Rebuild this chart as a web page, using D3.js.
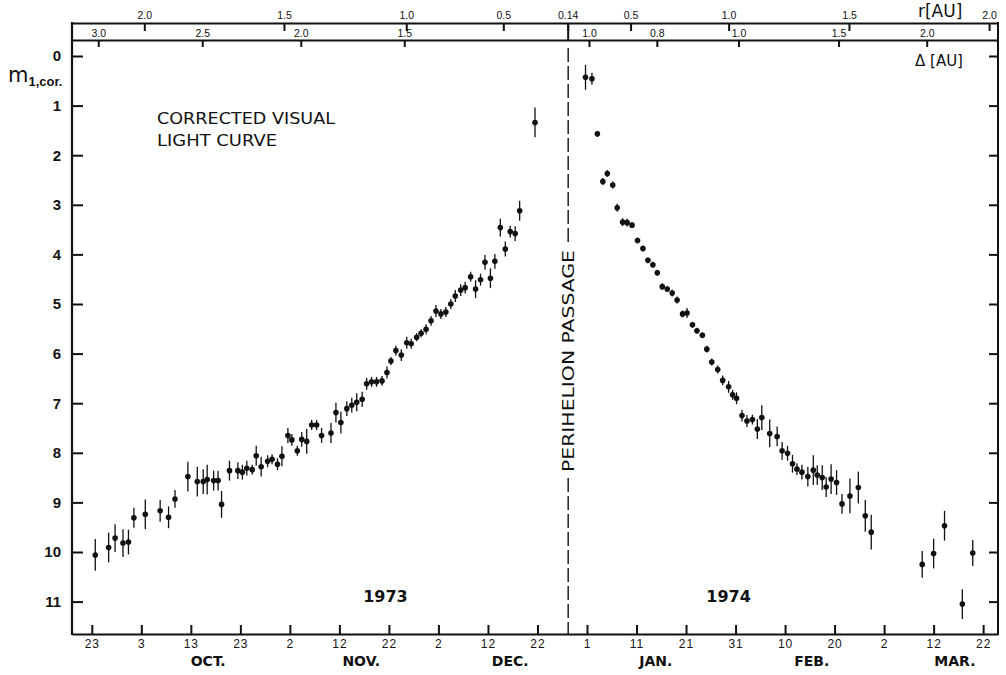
<!DOCTYPE html>
<html>
<head>
<meta charset="utf-8">
<script src="https://cdn.jsdelivr.net/npm/d3@7"></script>
<style>
  body { margin: 0; background: #fff; }
  svg { display: block; }
  .axis path, .axis line { stroke: #111; stroke-width: 2; }
  .axis text { fill: #111; font-family: 'Liberation Sans', Arial, sans-serif; }
  .label { fill: #111; font-family: 'DejaVu Sans', sans-serif; }
</style>
</head>
<body>
<div id="chart"></div>
<script>
// Observation dates (fractional day of month), magnitudes and error bars
var obsDates = [
  '1973-09-23.7','1973-09-26.4','1973-09-27.7','1973-09-29.3','1973-09-30.4',
  '1973-10-01.5','1973-10-03.8','1973-10-06.8','1973-10-08.5','1973-10-09.8',
  '1973-10-12.4','1973-10-14.3','1973-10-15.5','1973-10-16.3','1973-10-17.6',
  '1973-10-18.5','1973-10-19.2','1973-10-20.8','1973-10-22.5','1973-10-23.4',
  '1973-10-24.3','1973-10-25.4','1973-10-26.2','1973-10-27.2','1973-10-28.5',
  '1973-10-29.4','1973-10-30.5','1973-10-31.4','1973-11-01.6','1973-11-02.4',
  '1973-11-03.5','1973-11-04.4','1973-11-05.4','1973-11-06.4','1973-11-07.4',
  '1973-11-08.4','1973-11-10.3','1973-11-11.3','1973-11-12.3','1973-11-13.5',
  '1973-11-14.5','1973-11-15.5','1973-11-16.6','1973-11-17.5','1973-11-18.5',
  '1973-11-19.5','1973-11-20.6','1973-11-21.6','1973-11-22.4','1973-11-23.4',
  '1973-11-24.5','1973-11-25.6','1973-11-26.5','1973-11-27.6','1973-11-28.5',
  '1973-11-29.5','1973-11-30.5','1973-12-01.5','1973-12-02.5','1973-12-03.5',
  '1973-12-04.5','1973-12-05.4','1973-12-06.5','1973-12-07.4','1973-12-08.5',
  '1973-12-09.5','1973-12-10.5','1973-12-11.4','1973-12-12.5','1973-12-13.4',
  '1973-12-14.5','1973-12-15.5','1973-12-16.5','1973-12-17.5','1973-12-18.4',
  '1973-12-21.5',
  '1973-12-31.7','1974-01-02.0','1974-01-03.1','1974-01-04.2','1974-01-05.1',
  '1974-01-06.2','1974-01-07.1','1974-01-08.2','1974-01-09.1','1974-01-10.1',
  '1974-01-11.2','1974-01-12.3','1974-01-13.3','1974-01-14.3','1974-01-15.2',
  '1974-01-16.2','1974-01-17.2','1974-01-18.2','1974-01-19.2','1974-01-20.3',
  '1974-01-21.2','1974-01-22.3','1974-01-23.2','1974-01-24.3','1974-01-25.2',
  '1974-01-26.2','1974-01-27.4','1974-01-28.4','1974-01-29.6','1974-01-30.4',
  '1974-01-31.2','1974-02-01.3','1974-02-02.3','1974-02-03.4','1974-02-04.4',
  '1974-02-05.3','1974-02-06.9','1974-02-08.4','1974-02-09.4','1974-02-10.5',
  '1974-02-11.5','1974-02-12.4','1974-02-13.4','1974-02-14.6','1974-02-15.7',
  '1974-02-16.5','1974-02-17.5','1974-02-18.3','1974-02-19.3','1974-02-20.4',
  '1974-02-21.5','1974-02-23.1','1974-02-24.8','1974-02-26.2','1974-02-27.4',
  '1974-03-09.7','1974-03-12.0','1974-03-14.2','1974-03-17.8','1974-03-19.9'
];

var obsMags = [
  10.06, 9.91, 9.72, 9.82, 9.80,
  9.31, 9.24, 9.17, 9.30, 8.93,
  8.48, 8.58, 8.58, 8.54, 8.56,
  8.56, 9.04, 8.36, 8.36, 8.39,
  8.31, 8.34, 8.06, 8.28, 8.17,
  8.13, 8.23, 8.07, 7.65, 7.74,
  7.96, 7.73, 7.77, 7.44, 7.44,
  7.65, 7.60, 7.19, 7.39, 7.11,
  7.04, 6.98, 6.92, 6.61, 6.57,
  6.57, 6.55, 6.38, 6.15, 5.94,
  6.03, 5.78, 5.80, 5.67, 5.59,
  5.51, 5.34, 5.14, 5.20, 5.16,
  5.00, 4.84, 4.72, 4.67, 4.45,
  4.70, 4.51, 4.16, 4.48, 4.14,
  3.46, 3.89, 3.54, 3.58, 3.12,
  1.34,
  0.43, 0.46, 1.57, 2.53, 2.37,
  2.60, 3.06, 3.35, 3.36, 3.41,
  3.72, 3.88, 4.12, 4.21, 4.37,
  4.65, 4.70, 4.78, 4.92, 5.20,
  5.18, 5.42, 5.54, 5.63, 5.91,
  6.17, 6.32, 6.54, 6.67, 6.83,
  6.90, 7.25, 7.36, 7.33, 7.52,
  7.29, 7.61, 7.67, 7.96, 8.01,
  8.22, 8.33, 8.39, 8.48, 8.35,
  8.45, 8.50, 8.69, 8.53, 8.60,
  9.03, 8.87, 8.70, 9.27, 9.60,
  10.25, 10.03, 9.47, 11.05, 10.02
];

var obsErrs = [
  0.32, 0.3, 0.28, 0.28, 0.25,
  0.2, 0.3, 0.22, 0.22, 0.18,
  0.3, 0.3, 0.25, 0.3, 0.2,
  0.2, 0.27, 0.2, 0.17, 0.15,
  0.15, 0.1, 0.2, 0.2, 0.12,
  0.1, 0.12, 0.2, 0.15, 0.12,
  0.1, 0.15, 0.25, 0.1, 0.1,
  0.15, 0.2, 0.2, 0.22, 0.15,
  0.15, 0.18, 0.15, 0.12, 0.1,
  0.1, 0.1, 0.12, 0.08, 0.1,
  0.12, 0.12, 0.1, 0.08, 0.08,
  0.1, 0.1, 0.12, 0.1, 0.1,
  0.1, 0.12, 0.12, 0.12, 0.1,
  0.18, 0.12, 0.15, 0.2, 0.15,
  0.18, 0.15, 0.12, 0.15, 0.2,
  0.3,
  0.25, 0.12, 0.06, 0.07, 0.07,
  0.07, 0.08, 0.08, 0.08, 0.06,
  0.06, 0.06, 0.06, 0.06, 0.06,
  0.07, 0.06, 0.07, 0.07, 0.07,
  0.1, 0.06, 0.06, 0.06, 0.07,
  0.07, 0.08, 0.1, 0.12, 0.1,
  0.12, 0.12, 0.12, 0.1, 0.2,
  0.25, 0.28, 0.2, 0.18, 0.15,
  0.18, 0.12, 0.15, 0.2, 0.3,
  0.2, 0.25, 0.2, 0.3, 0.25,
  0.2, 0.35, 0.32, 0.32, 0.35,
  0.27, 0.3, 0.3, 0.3, 0.26
];

// Bottom axis: every 10 days
var dayTicks = ['1973-09-23','1973-10-03','1973-10-13','1973-10-23','1973-11-02',
  '1973-11-12','1973-11-22','1973-12-02','1973-12-12','1973-12-22','1974-01-01',
  '1974-01-11','1974-01-21','1974-01-31','1974-02-10','1974-02-20','1974-03-02',
  '1974-03-12','1974-03-22'];
var monthNames = ['OCT.', 'NOV.', 'DEC.', 'JAN.', 'FEB.', 'MAR.'];
var monthDates = ['1973-10-16.5', '1973-11-16.4', '1973-12-16.5', '1974-01-14.9', '1974-02-15.4', '1974-03-16.3'];

// Heliocentric distance r and geocentric distance delta
var rLabels = ['2.0', '1.5', '1.0', '0.5', '0.14', '0.5', '1.0', '1.5', '2.0'];
var rDates = ['1973-10-03.6', '1973-10-31.8', '1973-11-25.5', '1973-12-15.1', '1973-12-28.1',
  '1974-01-09.8', '1974-01-29.6', '1974-02-22.9', '1974-03-23.2'];
var deltaLabels = ['3.0', '2.5', '2.0', '1.5', '1.0', '0.8', '1.0', '1.5', '2.0'];
var deltaDates = ['1973-09-24.3', '1973-10-15.3', '1973-11-04.2', '1973-11-25.1', '1974-01-01.4',
  '1974-01-15.1', '1974-01-31.6', '1974-02-20.8', '1974-03-10.6'];

var magTicks = [0, 1, 2, 3, 4, 5, 6, 7, 8, 9, 10, 11];
var perihelionDate = '1973-12-28.2';
var yearLabels = ['1973', '1974'];
var yearDates = ['1973-11-21.3', '1974-01-29.6'];

function parse_day(s) {
    var p = s.split('-');
    return new Date(Date.UTC(+p[0], +p[1] - 1, 1) + (parseFloat(p[2]) - 1) * 864e5);
}

var W = 1006, H = 675;
var frame = {left: 72, right: 998, rLine: 23, dLine: 40, bottom: 634};

var svg = d3.select('#chart').append('svg')
    .attr('width', W)
    .attr('height', H);

var x = d3.scaleUtc()
    .domain([parse_day('1973-09-19'), parse_day('1974-03-25')])
    .range([frame.left, frame.right]);

var y = d3.scaleLinear()
    .domain([0, 11])
    .range([56, 601.6]);

// Bottom date axis, ticks pointing up
var xAxis = d3.axisBottom(x)
    .tickValues(dayTicks.map(parse_day))
    .tickFormat(d3.utcFormat('%-d'))
    .tickSizeInner(-9)
    .tickSizeOuter(0)
    .tickPadding(5);

svg.append('g')
    .attr('class', 'axis x')
    .attr('transform', 'translate(0,' + frame.bottom + ')')
    .call(xAxis)
    .selectAll('text')
    .attr('font-size', 12)
    .attr('letter-spacing', 1);

svg.selectAll('.month')
    .data(monthNames)
    .enter().append('text')
    .attr('class', 'label month')
    .attr('x', function(d, i) { return x(parse_day(monthDates[i])); })
    .attr('y', 666)
    .attr('text-anchor', 'middle')
    .attr('font-size', 14)
    .attr('font-weight', 'bold')
    .attr('font-family', 'Liberation Sans, Arial, sans-serif')
    .text(function(d) { return d; });

// Magnitude axes, ticks inward
var yAxis = d3.axisLeft(y)
    .tickValues(magTicks)
    .tickSizeInner(-11)
    .tickSizeOuter(0)
    .tickPadding(11);

svg.append('g')
    .attr('class', 'axis y')
    .attr('transform', 'translate(' + frame.left + ',0)')
    .call(yAxis)
    .call(function(g) { g.select('.domain').remove(); })
    .selectAll('text')
    .attr('font-size', 15)
    .attr('font-weight', 'bold');

svg.append('g')
    .attr('class', 'axis y2')
    .attr('transform', 'translate(' + frame.right + ',0)')
    .call(d3.axisRight(y).tickValues(magTicks).tickSizeInner(-9).tickSizeOuter(0).tickFormat(''))
    .call(function(g) { g.select('.domain').remove(); });

// r axis on top
svg.append('g')
    .attr('class', 'axis r')
    .attr('transform', 'translate(0,' + frame.rLine + ')')
    .call(d3.axisTop(x).tickValues(rDates.map(parse_day))
        .tickFormat(function(d, i) { return rLabels[i]; })
        .tickSizeInner(-8).tickSizeOuter(0).tickPadding(4))
    .selectAll('text')
    .attr('font-size', 10.5);

// delta axis below it
svg.append('g')
    .attr('class', 'axis delta')
    .attr('transform', 'translate(0,' + frame.dLine + ')')
    .call(d3.axisTop(x).tickValues(deltaDates.map(parse_day))
        .tickFormat(function(d, i) { return deltaLabels[i]; })
        .tickSizeInner(-7).tickSizeOuter(0).tickPadding(3))
    .selectAll('text')
    .attr('font-size', 10.5);

// Frame sides
svg.append('line')
    .attr('x1', frame.left).attr('x2', frame.left)
    .attr('y1', frame.rLine - 1).attr('y2', frame.bottom + 1)
    .attr('stroke', '#111').attr('stroke-width', 2.2);
svg.append('line')
    .attr('x1', frame.right).attr('x2', frame.right)
    .attr('y1', frame.rLine - 1).attr('y2', frame.bottom + 1)
    .attr('stroke', '#111').attr('stroke-width', 2);

// Perihelion passage
var xp = x(parse_day(perihelionDate));
svg.append('line')
    .attr('x1', xp).attr('x2', xp)
    .attr('y1', frame.rLine).attr('y2', frame.dLine)
    .attr('stroke', '#111').attr('stroke-width', 2);
svg.append('line')
    .attr('x1', xp).attr('x2', xp)
    .attr('y1', frame.dLine + 8).attr('y2', 244)
    .attr('stroke', '#111').attr('stroke-width', 1.4)
    .attr('stroke-dasharray', '14,4');
svg.append('line')
    .attr('x1', xp).attr('x2', xp)
    .attr('y1', 478).attr('y2', frame.bottom)
    .attr('stroke', '#111').attr('stroke-width', 1.4)
    .attr('stroke-dasharray', '14,4');
svg.append('text')
    .attr('class', 'label')
    .attr('transform', 'translate(' + (xp + 6) + ',361) rotate(-90)')
    .attr('text-anchor', 'middle')
    .attr('font-size', 16)
    .attr('textLength', 222)
    .attr('lengthAdjust', 'spacingAndGlyphs')
    .text('PERIHELION PASSAGE');

// Error bars and points
var obs = obsDates.map(function(d, i) {
    return {date: parse_day(d), mag: obsMags[i], err: obsErrs[i]};
});

svg.selectAll('.err')
    .data(obs)
    .enter().append('line')
    .attr('class', 'err')
    .attr('x1', function(d) { return x(d.date); })
    .attr('x2', function(d) { return x(d.date); })
    .attr('y1', function(d) { return y(d.mag - d.err); })
    .attr('y2', function(d) { return y(d.mag + d.err); })
    .attr('stroke', '#111')
    .attr('stroke-width', 1.3);

svg.selectAll('.dot')
    .data(obs)
    .enter().append('circle')
    .attr('class', 'dot')
    .attr('cx', function(d) { return x(d.date); })
    .attr('cy', function(d) { return y(d.mag); })
    .attr('r', 2.8)
    .attr('fill', '#111');

// Texts
svg.append('text')
    .attr('class', 'label')
    .attr('x', 157).attr('y', 124)
    .attr('font-size', 15.5)
    .attr('textLength', 178)
    .attr('lengthAdjust', 'spacingAndGlyphs')
    .text('CORRECTED VISUAL');
svg.append('text')
    .attr('class', 'label')
    .attr('x', 157).attr('y', 146)
    .attr('font-size', 15.5)
    .attr('textLength', 120)
    .attr('lengthAdjust', 'spacingAndGlyphs')
    .text('LIGHT CURVE');

svg.selectAll('.year')
    .data(yearLabels)
    .enter().append('text')
    .attr('class', 'label year')
    .attr('x', function(d, i) { return x(parse_day(yearDates[i])); })
    .attr('y', 602)
    .attr('text-anchor', 'middle')
    .attr('font-size', 16)
    .attr('font-family', 'Liberation Sans, Arial, sans-serif')
    .attr('font-weight', 'bold')
    .text(function(d) { return d; });

var ylab = svg.append('text')
    .attr('class', 'label')
    .attr('x', 8).attr('y', 82);
ylab.append('tspan').attr('font-size', 21).text('m');
ylab.append('tspan').attr('font-size', 13).attr('font-weight', 'bold').attr('dy', 4)
    .attr('font-family', 'Liberation Sans, Arial, sans-serif').text('1,cor.');

svg.append('text')
    .attr('class', 'label')
    .attr('x', 918).attr('y', 17)
    .attr('font-size', 17)
    .text('r[AU]');

svg.append('text')
    .attr('class', 'label')
    .attr('x', 915).attr('y', 66)
    .attr('font-size', 15)
    .text('\u0394 [AU]');
</script>
</body>
</html>
